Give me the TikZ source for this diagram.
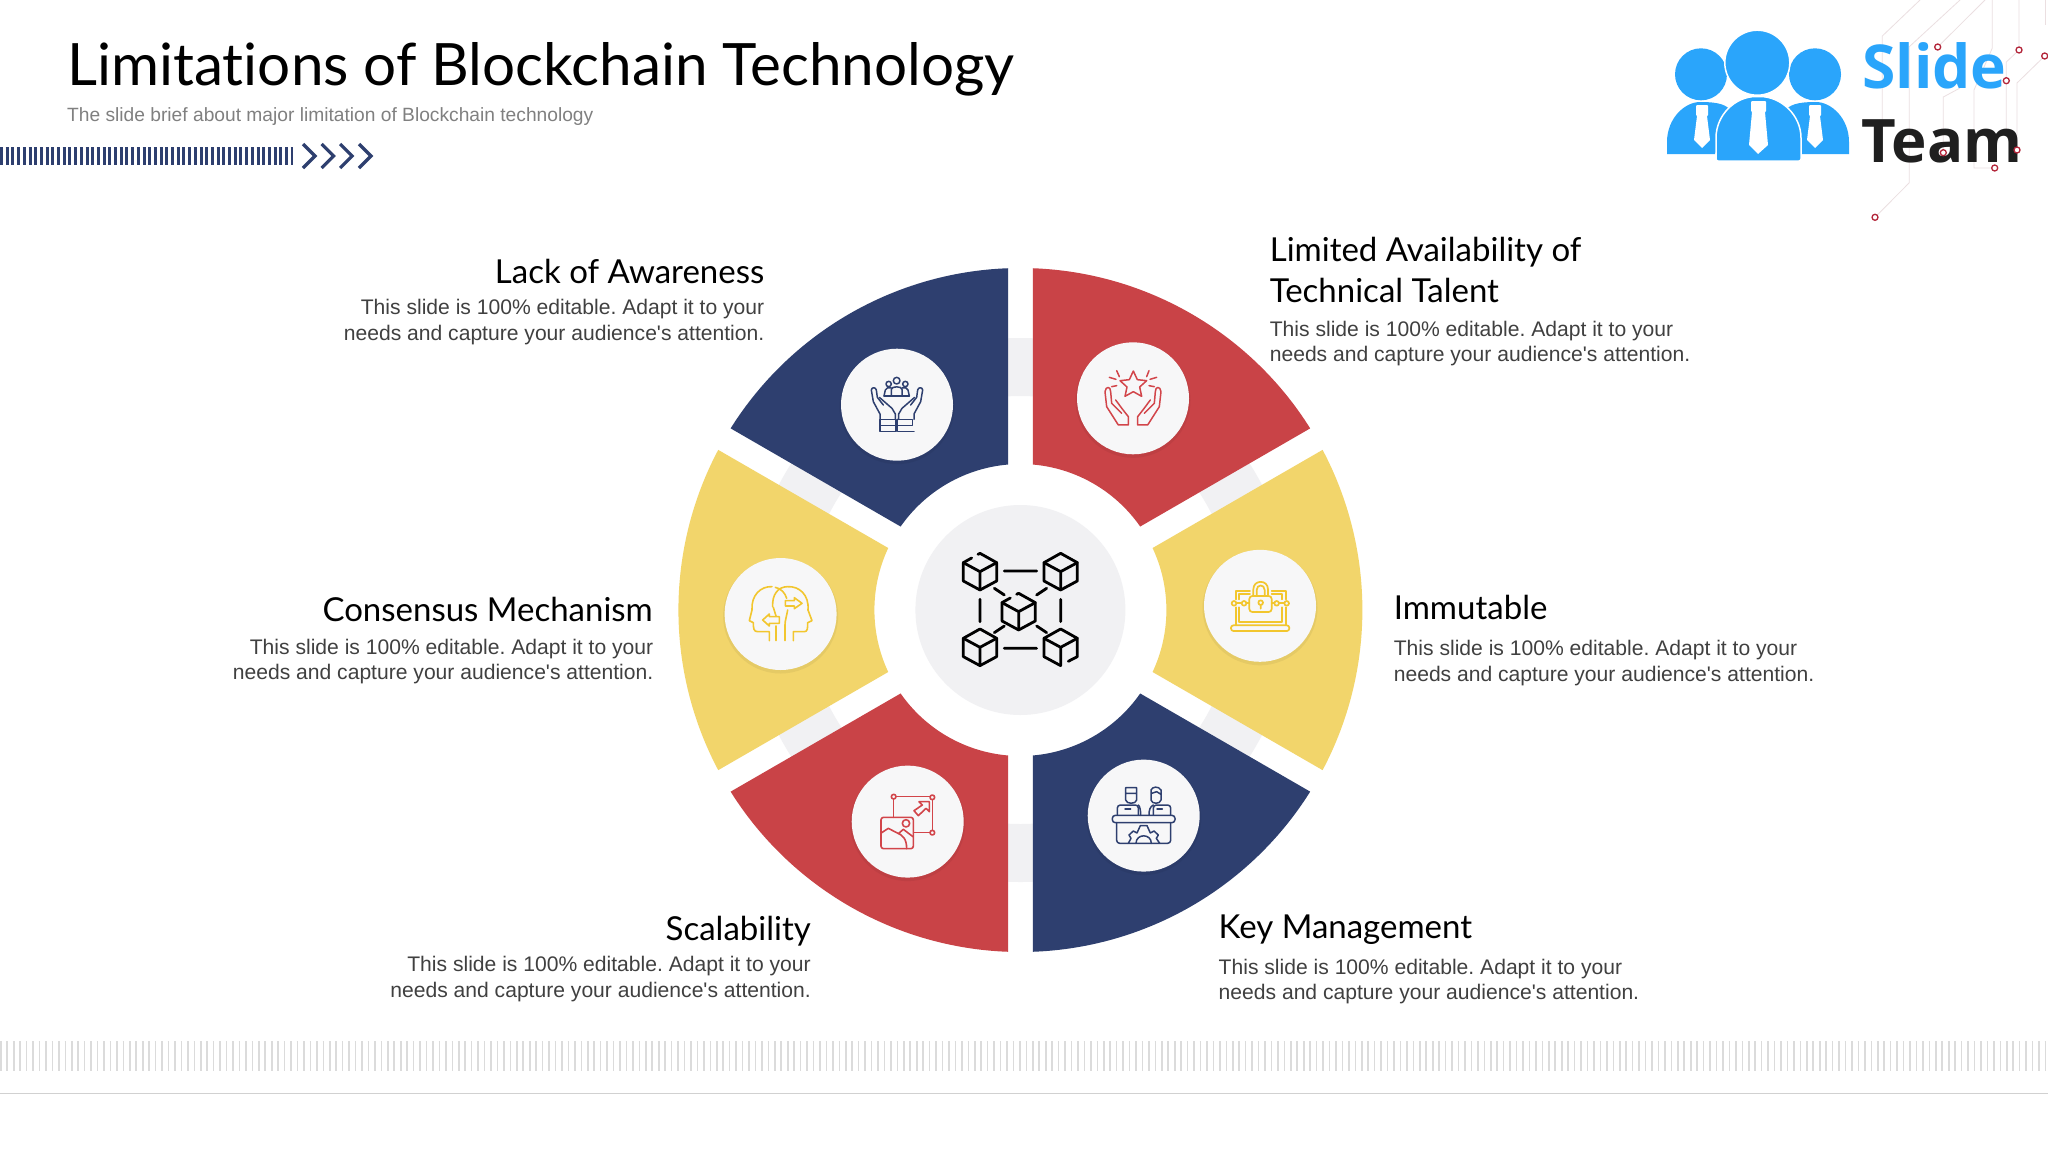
\documentclass[tikz,border=0pt]{standalone}
\usepackage{fontspec}
\setmainfont{Liberation Sans}[Ligatures=TeXOff]
\newfontfamily\headf{Lato}[Ligatures=NoCommon]
\newfontfamily\logof{Open Sans}
\frenchspacing
\definecolor{navy}{HTML}{2E3F6F}
\definecolor{redc}{HTML}{C94347}
\definecolor{yel}{HTML}{F2D56B}
\definecolor{yelicon}{HTML}{F2C62E}
\definecolor{redicon}{HTML}{D2454A}
\definecolor{logoblue}{HTML}{2AA5FB}
\definecolor{pale}{HTML}{F1F1F3}
\definecolor{discfill}{HTML}{F7F7F8}
\definecolor{circuit}{HTML}{EBDFE1}
\definecolor{circuitdot}{HTML}{B3263A}
\newcommand\sect[3]{\fill[#1] (#2+2.08:342) arc[start angle=#2+2.08,end angle=#3-2.08,radius=342] -- (#3-4.87:146) arc[start angle=#3-4.87,end angle=#2+4.87,radius=146] -- cycle;}
\newcommand\handA{\draw (150,238) -- (150,222) -- (130,185) -- (124,150) .. controls (125,141) and (137,141) .. (139,150) -- (142,172) -- (160,195);
  \draw (148,172) -- (186,205) -- (196,222) -- (196,238);}
\tikzset{
 x=1pt,y=-1pt,
 iconbg/.style={circle,fill=discfill,minimum size=112pt,inner sep=0},
 icon/.style={x=0.3333pt,y=-0.3333pt,line width=1.5pt,line cap=round,line join=round},
 head/.style={font=\headf\fontsize{33}{40}\selectfont,inner sep=0,text=black},
 hl/.style={head,anchor=base west},
 hr/.style={head,anchor=base east},
 body/.style={font=\fontsize{21.1}{25.7}\selectfont,inner sep=0,text=black!75},
 bl/.style={body,anchor=north west,align=left},
 br/.style={body,anchor=north east,align=right},
 circ/.style={draw=circuit,line width=0.8pt},
 cdot/.style={draw=circuitdot,fill=white,line width=1.3pt},
}
\begin{document}
\begin{tikzpicture}
\useasboundingbox (0,0) rectangle (2048,1152);
\fill[white] (0,0) rectangle (2048,1152);

% circuit lines
\draw[circ] (1920,0) -- (1882.3,36) -- (1882.3,135);
\draw[circ] (1960,0) -- (1909.3,46.7) -- (1909.3,182.7) -- (1875,217.3);
\draw[circ] (1985,0) -- (1937.7,47);
\draw[circ] (1992.3,0) -- (1992.3,48) -- (1974,90) -- (1974,168) -- (1994.7,168);
\draw[circ] (2019,0) -- (2019,50) -- (2006.3,62) -- (2006.3,130);
\draw[circ] (2044.7,56) -- (2017,83) -- (2017,150);
\draw[circ] (2045,0) -- (2045,25);
\draw[circ] (1960,88) -- (1943.3,97) -- (1943.3,152.7);

% logo
\fill[logoblue] (1667,154) -- (1667,142) .. controls (1667,118) and (1685,102) .. (1700,102) .. controls (1720,102) and (1727,105) .. (1732,112) -- (1715,154) -- cycle;
\fill[logoblue] (1849,154) -- (1849,142) .. controls (1849,118) and (1831,102) .. (1816,102) .. controls (1796,102) and (1789,105) .. (1784,112) -- (1801,154) -- cycle;
\fill[logoblue] (1701,74.3) circle[radius=26];
\fill[logoblue] (1815,74.3) circle[radius=26];
\filldraw[fill=logoblue,draw=white,line width=1.5pt] (1757.3,62.7) circle[radius=32.5];
\filldraw[fill=logoblue,draw=white,line width=1.5pt,rounded corners=2pt] (1716,161) -- (1716,140) .. controls (1716,115) and (1735,96.5) .. (1758,96.5) .. controls (1781,96.5) and (1801,115) .. (1801,140) -- (1801,161) -- cycle;
\fill[white,rounded corners=1pt] (1751,101) rectangle (1766,112);
\fill[white] (1752,112) -- (1765,112) -- (1768,145) -- (1758,154) -- (1749,145) -- cycle;
\fill[white,rounded corners=1pt] (1696,105) rectangle (1708,116);
\fill[white] (1697,116) -- (1707,116) -- (1710,140) -- (1702,148) -- (1694,140) -- cycle;
\fill[white,rounded corners=1pt] (1809,105) rectangle (1821,116);
\fill[white] (1810,116) -- (1820,116) -- (1823,140) -- (1815,148) -- (1807,140) -- cycle;
\node[inner sep=0,anchor=base west,text=logoblue,font=\logof\bfseries\fontsize{60.5}{60}\selectfont] (slide) at (1862,88) {Slide};
\node[inner sep=0,anchor=base west,text=black!88,font=\logof\bfseries\fontsize{60}{60}\selectfont] (team) at (1861,162) {Team};

% circuit dots
\foreach \px/\py in {1937.7/47,2019/50,2044.7/56,2006.3/80.7,2017/150,1994.7/168,1943.3/152.7,1875/217.3}
  \draw[cdot] (\px,\py) circle[radius=3];

% title block
\node[inner sep=0,anchor=base west,font=\headf\fontsize{58.4}{60}\selectfont] (title) at (67,85) {Limitations of Blockchain Technology};
\node[inner sep=0,anchor=base west,text=black!50,font=\fontsize{19.2}{24}\selectfont] (sub) at (67,121.7) {The slide brief about major limitation of Blockchain technology};
\draw[navy,line width=18.3pt,dash pattern=on 3pt off 2.7pt] (0,156) -- (293,156);
\foreach \xx in {303,321.7,340.2,359}
  \draw[navy,line width=3.2pt] (\xx,144) -- ++(12,12) -- ++(-12,12);

% wheel
\begin{scope}[shift={(1020.4,610)},x=1pt,y=1pt]
 \fill[pale,even odd rule] (0,0) circle[radius=272] (0,0) circle[radius=214];
 \sect{navy}{90}{150}
 \sect{redc}{30}{90}
 \sect{yel}{-30}{30}
 \sect{navy}{-90}{-30}
 \sect{redc}{-150}{-90}
 \sect{yel}{150}{210}
 \fill[pale] (0,0) circle[radius=105];
\end{scope}

% icon discs
\foreach \nm/\px/\py in {a/897/404.7,b/1133/398.3,c/1260/605.8,d/1143.7/815.6,e/907.7/821.6,f/780.6/614}{
  \fill[black,opacity=.05] (\px,\py+2) circle[radius=57.5];
  \node[iconbg] (\nm) at (\px,\py) {};
}

% centre icon
\begin{scope}[shift={(820,320)},icon,line width=2.8pt,draw=black]
 % cubes
 \foreach \cx/\cy in {480/755,722/755,480/982,722/982,596/875}{
  \draw (\cx,\cy) -- (\cx-50,\cy-27) (\cx,\cy) -- (\cx+50,\cy-27) (\cx,\cy) -- (\cx,\cy+55);
 }
 \foreach \cx/\cy in {480/755,596/875}{
  \draw (\cx-25,\cy-41) -- (\cx-50,\cy-27) -- (\cx-50,\cy+28) -- (\cx,\cy+55) -- (\cx+50,\cy+28) -- (\cx+50,\cy-27) -- (\cx,\cy-55) -- (\cx-6,\cy-52);
 }
 \foreach \cx/\cy in {722/755,480/982}{
  \draw (\cx,\cy-55) -- (\cx+50,\cy-27) -- (\cx+50,\cy+28) -- (\cx,\cy+55) -- (\cx-50,\cy+28) -- (\cx-50,\cy-27) -- cycle;
 }
 \draw (722+23,982+42) -- (722+50,982+28) -- (722+50,982-27) -- (722,982-55) -- (722-50,982-27) -- (722-50,982+28) -- (722,982+55);
 % links
 \draw (553,753) -- (650,753) (553,985) -- (650,985) (480,838) -- (480,905) (722,838) -- (722,905)
  (523,805) -- (553,825) (680,805) -- (650,825) (523,938) -- (553,918) (680,938) -- (650,918);
\end{scope}

% icon a: hands with people
\begin{scope}[shift={(830,340)},icon,draw=navy]
 \draw (200,122) circle[radius=10] (176,132) circle[radius=8] (226,132) circle[radius=8];
 \draw (184,168) -- (184,148) .. controls (184,138) and (216,138) .. (216,148) -- (216,168);
 \draw (162,168) -- (166,150) .. controls (168,143) and (176,141) .. (184,144);
 \draw (238,168) -- (234,150) .. controls (232,143) and (224,141) .. (216,144);
 \draw (162,168) -- (238,168);
 \draw (150,238) rectangle (198,274) (150,256) -- (198,256);
 \draw (202,238) -- (202,274) -- (252,274) (202,238) -- (248,238) -- (248,256) -- (202,256);
 \handA
 \begin{scope}[shift={(402,0)},xscale=-1]
  \handA
 \end{scope}
\end{scope}

% icon b: star in hands
\begin{scope}[shift={(1065,335)},icon,draw=redicon]
 \draw (205,108) -- (217,134) -- (245,137) -- (224,156) -- (230,184) -- (205,170) -- (180,184) -- (186,156) -- (165,137) -- (193,134) -- cycle;
 \draw (155,107) -- (163,125) (252,107) -- (245,125) (133,127) -- (153,133) (275,127) -- (255,133) (140,155) -- (155,152) (268,155) -- (252,152);
 \draw (160,270) -- (190,270) -- (190,245) -- (172,222) -- (152,195) (160,270) -- (125,215) -- (120,170) .. controls (122,153) and (137,153) .. (137,170) -- (140,205) -- (170,235);
 \draw (248,270) -- (218,270) -- (218,245) -- (236,222) -- (256,195) (248,270) -- (283,215) -- (288,170) .. controls (286,153) and (271,153) .. (271,170) -- (268,205) -- (238,235);
\end{scope}

% icon c: lock on laptop
\begin{scope}[shift={(1195,560)},icon,draw=yelicon,line width=1.7pt]
 \draw (122,118) -- (122,92) -- (165,92) (230,92) -- (272,92) -- (272,118) (122,142) -- (122,196) (272,142) -- (272,196);
 \draw (132,118) -- (132,103) -- (165,103) (230,103) -- (262,103) -- (262,118) (132,142) -- (132,185) -- (262,185) -- (262,142);
 \draw[rounded corners=2.5pt] (108,196) rectangle (283,213);
 \draw[rounded corners=3pt] (163,108) rectangle (230,156);
 \draw (175,108) -- (175,88) .. controls (175,58) and (219,58) .. (219,88) -- (219,108);
 \draw (185,108) -- (185,90) .. controls (185,72) and (209,72) .. (209,90) -- (209,108);
 \draw (197,128) circle[radius=7] (197,135) -- (197,146);
 \draw (117,130) circle[radius=7] (147,130) circle[radius=7] (245,130) circle[radius=7] (275,130) circle[radius=7];
 \draw (124,130) -- (140,130) (154,130) -- (163,130) (230,130) -- (238,130) (252,130) -- (268,130);
\end{scope}

% icon d: operators and gear
\begin{scope}[shift={(1075,755)},icon,draw=navy]
 \draw[rounded corners=3pt] (112,181) rectangle (300,203);
 \draw[rounded corners=3pt] (125,203) -- (125,265) -- (287,265) -- (287,203);
 \draw (160,265) -- (168,250) -- (162,240) -- (175,228) -- (186,234) -- (196,212) -- (216,212) -- (226,234) -- (237,228) -- (250,240) -- (244,250) -- (254,265);
 \draw (183,265) .. controls (183,235) and (229,235) .. (229,265);
 \draw[rounded corners=3pt] (127,180) -- (127,150) -- (190,150) -- (190,180);
 \draw[rounded corners=3pt] (235,180) -- (235,150) -- (287,150) -- (287,180);
 \draw (152,98) -- (185,98) -- (185,135) .. controls (183,148) and (154,148) .. (152,135) -- cycle (152,115) -- (185,115);
 \draw (228,118) -- (228,135) .. controls (230,148) and (256,148) .. (258,135) -- (258,105) .. controls (250,92) and (232,95) .. (228,105) -- (228,118) (230,115) -- (245,110) -- (258,118);
 \draw (190,150) .. controls (195,155) and (197,165) .. (197,181) (222,181) .. controls (222,165) and (225,155) .. (235,150);
 \draw (167,162) -- (150,162) (262,162) -- (246,162);
\end{scope}

% icon e: resize image
\begin{scope}[shift={(845,760)},icon,draw=redicon,line width=1.6pt]
 \draw (153,110) -- (255,110) (262,119) -- (262,211) (255,218) -- (207,218) (145,117) -- (145,172);
 \draw (146,110) circle[radius=7] (262,112) circle[radius=7] (262,218) circle[radius=7];
 \draw[rounded corners=2.5pt] (108,172) rectangle (205,266);
 \draw (183,190) circle[radius=11];
 \draw (110,218) -- (130,205) -- (155,218) .. controls (172,225) and (185,235) .. (185,266) (160,221) -- (175,208) -- (204,230);
 \draw (253,125) -- (222,125) -- (232,135) -- (207,152) -- (220,167) -- (243,145) -- (253,155) -- cycle;
\end{scope}

% icon f: two heads
\begin{scope}[shift={(716,550)},icon,draw=yelicon,line width=1.6pt]
 \draw (160,272) -- (160,245) -- (125,245) .. controls (113,245) and (112,235) .. (112,218) -- (100,212) -- (108,180) .. controls (105,135) and (135,108) .. (168,110);
 \draw (232,272) -- (232,245) -- (265,245) .. controls (275,245) and (275,235) .. (275,218) -- (288,212) -- (276,180) .. controls (280,135) and (250,108) .. (215,110) .. controls (185,110) and (168,135) .. (170,170) (172,172) -- (180,198);
 \draw (178,112) .. controls (195,115) and (208,130) .. (212,145);
 \draw (180,272) -- (180,228) (207,272) -- (207,225) .. controls (207,212) and (212,198) .. (215,180);
 \draw (208,152) -- (235,152) -- (235,143) -- (258,160) -- (235,176) -- (235,168) -- (208,168) -- cycle;
 \draw (190,200) -- (160,200) -- (160,192) -- (140,210) -- (160,228) -- (160,220) -- (190,220) -- cycle;
\end{scope}

% labels
\node[hr] (h1) at (764.5,283) {Lack of Awareness};
\node[br] (t1) at (764.5,299.5) {This slide is 100\% editable. Adapt it to your\\needs and capture your audience's attention.};
\node[hl] (h2a) at (1269.6,261) {Limited Availability of};
\node[hl] (h2b) at (1269.6,302) {Technical Talent};
\node[bl] (t2) at (1269.6,320.8) {This slide is 100\% editable. Adapt it to your\\needs and capture your audience's attention.};
\node[hl] (h3) at (1393.6,619) {Immutable};
\node[bl] (t3) at (1393.6,640) {This slide is 100\% editable. Adapt it to your\\needs and capture your audience's attention.};
\node[hl] (h4) at (1218.5,938) {Key Management};
\node[bl] (t4) at (1218.5,958.5) {This slide is 100\% editable. Adapt it to your\\needs and capture your audience's attention.};
\node[hr] (h5) at (811,940) {Scalability};
\node[br] (t5) at (811,956.3) {This slide is 100\% editable. Adapt it to your\\needs and capture your audience's attention.};
\node[hr] (h6) at (653,621.3) {Consensus Mechanism};
\node[br] (t6) at (653.5,638.5) {This slide is 100\% editable. Adapt it to your\\needs and capture your audience's attention.};

% footer
\draw[black!14!white,line width=30pt,dash pattern=on 1.6pt off 4.85pt] (0,1055.7) -- (2048,1055.7);
\draw[black!18,line width=1.2pt] (0,1093.7) -- (2048,1093.7);
\end{tikzpicture}
\end{document}
